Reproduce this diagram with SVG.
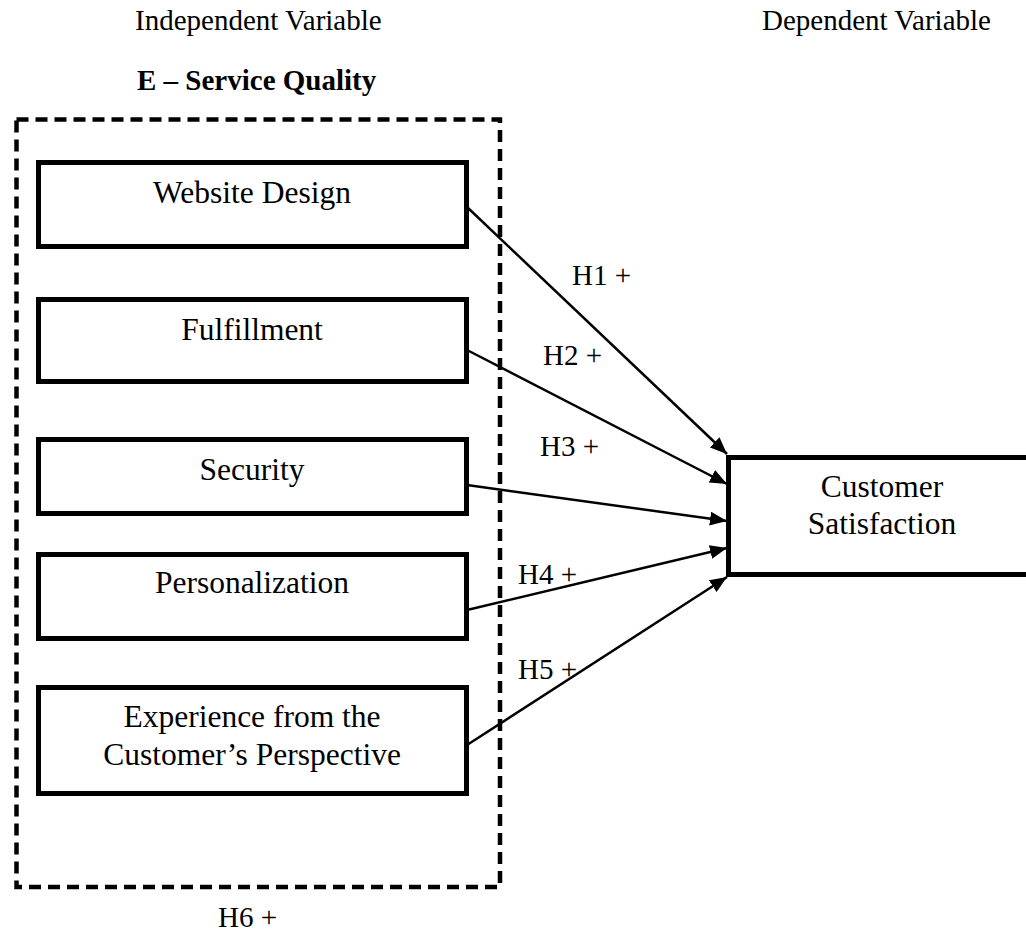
<svg xmlns="http://www.w3.org/2000/svg" width="1026" height="931" viewBox="0 0 1026 931">
  <style>
    .txt { font-family: "Liberation Serif", "Times New Roman", serif; fill: #000; }
    .head { font-size: 29px; }
    .bold { font-weight: bold; }
    .node-text { font-size: 31.5px; text-anchor: middle; }
    .hyp { font-size: 29px; }
    .box { fill: #fff; stroke: #000; stroke-width: 5; }
    .group-frame { fill: none; stroke: #000; stroke-width: 4.5; stroke-dasharray: 12 7; }
    .link { fill: none; stroke: #000; stroke-width: 2.5; }
  </style>
  <defs>
    <marker id="arrow" markerUnits="userSpaceOnUse" markerWidth="18" markerHeight="14" refX="17" refY="7" orient="auto">
      <path d="M0,0 L17,7 L0,14 Z" fill="#000"/>
    </marker>
  </defs>

  <rect width="1026" height="931" fill="#fff"/>

  <!-- column headings -->
  <text class="txt head" x="135" y="30">Independent Variable</text>
  <text class="txt head" x="762" y="30">Dependent Variable</text>
  <text class="txt head bold" x="137" y="90">E – Service Quality</text>

  <!-- E-Service Quality grouping frame -->
  <g id="e-service-quality">
    <rect class="group-frame" x="16.5" y="119.5" width="483.5" height="767.5"/>
  </g>

  <g id="website-design">
    <rect class="box" x="38.5" y="162.5" width="428" height="84"/>
    <text class="txt node-text" x="252" y="203">Website Design</text>
  </g>

  <g id="fulfillment">
    <rect class="box" x="38.5" y="299.5" width="428" height="82"/>
    <text class="txt node-text" x="252" y="340">Fulfillment</text>
  </g>

  <g id="security">
    <rect class="box" x="38.5" y="439.5" width="428" height="74"/>
    <text class="txt node-text" x="252" y="480">Security</text>
  </g>

  <g id="personalization">
    <rect class="box" x="38.5" y="554.5" width="428" height="84"/>
    <text class="txt node-text" x="252" y="593">Personalization</text>
  </g>

  <g id="experience">
    <rect class="box" x="38.5" y="687.5" width="428" height="106"/>
    <text class="txt node-text" x="252" y="727">Experience from the</text>
    <text class="txt node-text" x="252" y="765">Customer’s Perspective</text>
  </g>

  <g id="customer-satisfaction">
    <rect class="box" x="728.5" y="457.5" width="320" height="117"/>
    <text class="txt node-text" x="882" y="497">Customer</text>
    <text class="txt node-text" x="882" y="534">Satisfaction</text>
  </g>

  <!-- hypothesis paths -->
  <g id="connectors">
    <line class="link" x1="467" y1="207" x2="727" y2="454" marker-end="url(#arrow)"/>
    <line class="link" x1="467" y1="350" x2="727" y2="484" marker-end="url(#arrow)"/>
    <line class="link" x1="467" y1="485" x2="727" y2="521" marker-end="url(#arrow)"/>
    <line class="link" x1="467" y1="610" x2="727" y2="548" marker-end="url(#arrow)"/>
    <line class="link" x1="467" y1="745" x2="727" y2="577" marker-end="url(#arrow)"/>
  </g>

  <!-- hypothesis labels -->
  <g id="labels">
    <text class="txt hyp" x="572" y="285">H1 +</text>
    <text class="txt hyp" x="543" y="365">H2 +</text>
    <text class="txt hyp" x="540" y="456">H3 +</text>
    <text class="txt hyp" x="518" y="584">H4 +</text>
    <text class="txt hyp" x="518" y="679">H5 +</text>
    <text class="txt hyp" x="218" y="927">H6 +</text>
  </g>
</svg>
